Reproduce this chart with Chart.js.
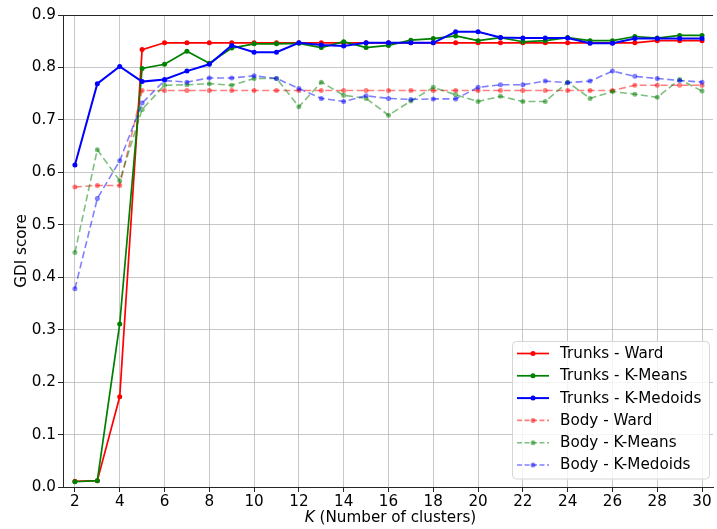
<!DOCTYPE html>
<html>
<head>
<meta charset="utf-8">
<script src="https://cdn.jsdelivr.net/npm/chart.js@4.4.1/dist/chart.umd.min.js"></script>
<style>
  html, body { margin: 0; padding: 0; background: #fff; }
  canvas { display: block; }
</style>
</head>
<body>
<canvas id="gdi" width="717" height="529"></canvas>
<script>
// ─── data ────────────────────────────────────────────────────────────────────
const kValues = [2, 3, 4, 5, 6, 7, 8, 9, 10, 11, 12, 13, 14, 15, 16, 17, 18, 19, 20, 21, 22, 23, 24, 25, 26, 27, 28, 29, 30];

const trunksWard = [0.011, 0.012, 0.172, 0.834, 0.847, 0.847, 0.847, 0.847, 0.847, 0.847, 0.847, 0.847, 0.847, 0.847,
  0.847, 0.847, 0.847, 0.847, 0.847, 0.847, 0.847, 0.847, 0.847, 0.847, 0.847, 0.847, 0.851, 0.851, 0.851];
const trunksKMeans = [0.010, 0.012, 0.311, 0.798, 0.806, 0.831, 0.808, 0.837, 0.845, 0.845, 0.846, 0.838, 0.849, 0.838,
  0.842, 0.852, 0.855, 0.860, 0.851, 0.857, 0.849, 0.851, 0.857, 0.851, 0.851, 0.859, 0.856, 0.861, 0.861];
const trunksKMedoids = [0.614, 0.769, 0.802, 0.773, 0.777, 0.793, 0.806, 0.842, 0.829, 0.829, 0.847, 0.843, 0.841, 0.847,
  0.847, 0.847, 0.847, 0.868, 0.868, 0.857, 0.856, 0.856, 0.856, 0.846, 0.846, 0.855, 0.855, 0.855, 0.855];
const bodyWard = [0.572, 0.575, 0.575, 0.756, 0.756, 0.756, 0.756, 0.756, 0.756, 0.756, 0.756, 0.756, 0.756, 0.756,
  0.756, 0.756, 0.756, 0.756, 0.756, 0.756, 0.756, 0.756, 0.756, 0.756, 0.756, 0.766, 0.766, 0.766, 0.766];
const bodyKMeans = [0.447, 0.643, 0.584, 0.720, 0.766, 0.767, 0.769, 0.766, 0.779, 0.779, 0.725, 0.772, 0.747, 0.741,
  0.709, 0.736, 0.762, 0.748, 0.735, 0.745, 0.735, 0.735, 0.772, 0.741, 0.754, 0.749, 0.743, 0.777, 0.755];
const bodyKMedoids = [0.378, 0.550, 0.622, 0.732, 0.775, 0.772, 0.780, 0.780, 0.784, 0.779, 0.760, 0.741, 0.735, 0.746,
  0.741, 0.739, 0.740, 0.740, 0.762, 0.767, 0.767, 0.774, 0.771, 0.774, 0.793, 0.783, 0.779, 0.775, 0.772];

const seriesLabels = ['Trunks - Ward', 'Trunks - K-Means', 'Trunks - K-Medoids', 'Body - Ward', 'Body - K-Means', 'Body - K-Medoids'];
const xTicks = [2, 4, 6, 8, 10, 12, 14, 16, 18, 20, 22, 24, 26, 28, 30];
const yTicks = [0, 0.1, 0.2, 0.3, 0.4, 0.5, 0.6, 0.7, 0.8, 0.9];

// ─── style ───────────────────────────────────────────────────────────────────
const FONT = 'DejaVu Sans';
const FS = 15.2;
const GRID = 'rgba(176,176,176,0.7)';
const SPINE = '#262626';
const DASH = [7, 3.5];

function ds(label, data, color, width, dashed) {
  return {
    label,
    data: data.map((v, i) => ({ x: kValues[i], y: v })),
    borderColor: color,
    backgroundColor: color,
    borderWidth: width,
    borderDash: dashed ? DASH : [],
    pointRadius: 2.5,
    pointBorderWidth: 0,
    pointBackgroundColor: color,
    tension: 0,
    _dashed: dashed,
  };
}

const datasets = [
  ds(seriesLabels[0], trunksWard, '#ff0000', 1.7, false),
  ds(seriesLabels[1], trunksKMeans, '#008000', 1.7, false),
  ds(seriesLabels[2], trunksKMedoids, '#0000ff', 2, false),
  ds(seriesLabels[3], bodyWard, 'rgba(255,0,0,0.5)', 1.6, true),
  ds(seriesLabels[4], bodyKMeans, 'rgba(0,128,0,0.5)', 1.6, true),
  ds(seriesLabels[5], bodyKMedoids, 'rgba(0,0,255,0.5)', 1.6, true),
];
// later series on top, like matplotlib
datasets.forEach((d, i) => { d.order = datasets.length - i; });

/** Top spine, x axis label with italic K, legend box. */
const decor = {
  id: 'decor',
  afterDraw(chart) {
    const { ctx, chartArea: a } = chart;
    ctx.save();
    // top spine
    ctx.strokeStyle = SPINE;
    ctx.lineWidth = 1;
    ctx.beginPath();
    ctx.moveTo(a.left, a.top + 0.5);
    ctx.lineTo(a.right, a.top + 0.5);
    ctx.stroke();

    // x label
    ctx.fillStyle = '#000';
    ctx.textBaseline = 'middle';
    ctx.textAlign = 'left';
    const italic = `italic ${FS}px "${FONT}"`;
    const normal = `${FS}px "${FONT}"`;
    ctx.font = italic;
    const wK = ctx.measureText('K').width;
    ctx.font = normal;
    const rest = ' (Number of clusters)';
    const wR = ctx.measureText(rest).width;
    const cx = 390.5;
    const x0 = cx - (wK + wR) / 2;
    ctx.font = italic;
    ctx.fillText('K', x0, 518);
    ctx.font = normal;
    ctx.fillText(rest, x0 + wK, 518);

    // legend
    const bx = 512, by = 341, bw = 197, bh = 137.5;
    ctx.beginPath();
    ctx.roundRect(bx + 0.5, by + 0.5, bw, bh, 4);
    ctx.fillStyle = 'rgba(255,255,255,0.8)';
    ctx.fill();
    ctx.strokeStyle = '#d6d6d6';
    ctx.lineWidth = 1;
    ctx.stroke();

    chart.data.datasets.forEach((d, i) => {
      const y = 353.5 + i * 22.3;
      ctx.strokeStyle = d.borderColor;
      ctx.lineWidth = d.borderWidth;
      ctx.setLineDash(d._dashed ? [5, 2.5] : []);
      ctx.beginPath();
      ctx.moveTo(517, y);
      ctx.lineTo(549, y);
      ctx.stroke();
      ctx.setLineDash([]);
      ctx.fillStyle = d.borderColor;
      ctx.beginPath();
      ctx.arc(533, y, 2.5, 0, Math.PI * 2);
      ctx.fill();
      ctx.fillStyle = '#000';
      ctx.font = normal;
      ctx.textBaseline = 'middle';
      ctx.fillText(d.label, 560, y + 0.5);
    });
    ctx.restore();
  },
};

new Chart(document.getElementById('gdi').getContext('2d'), {
  type: 'line',
  data: { datasets },
  options: {
    responsive: false,
    animation: false,
    devicePixelRatio: 1,
    layout: { padding: { left: 0, top: 15, right: 0, bottom: 0 } },
    plugins: { legend: { display: false }, tooltip: { enabled: false } },
    scales: {
      x: {
        type: 'linear',
        min: 1.4675,
        max: 30.49,
        afterBuildTicks: s => { s.ticks = xTicks.map(v => ({ value: v })); },
        afterFit: s => { s.height = 42; },
        grid: { color: GRID, lineWidth: 1, tickColor: SPINE, tickLength: 5 },
        border: { color: SPINE, width: 1 },
        ticks: { color: '#000', font: { family: FONT, size: FS }, padding: 1, maxRotation: 0, autoSkip: false },
      },
      y: {
        min: 0,
        max: 0.9,
        afterBuildTicks: s => { s.ticks = yTicks.map(v => ({ value: v })); },
        afterFit: s => { s.width = 63; },
        grid: { color: GRID, lineWidth: 1, tickColor: SPINE, tickLength: 5 },
        border: { color: SPINE, width: 1 },
        ticks: {
          color: '#000', font: { family: FONT, size: FS }, padding: 2,
          callback: v => Number(v).toFixed(1),
        },
        title: { display: true, text: 'GDI score', color: '#000', font: { family: FONT, size: FS }, padding: { top: 13, bottom: 0 } },
      },
    },
  },
  plugins: [decor],
});
</script>
</body>
</html>
